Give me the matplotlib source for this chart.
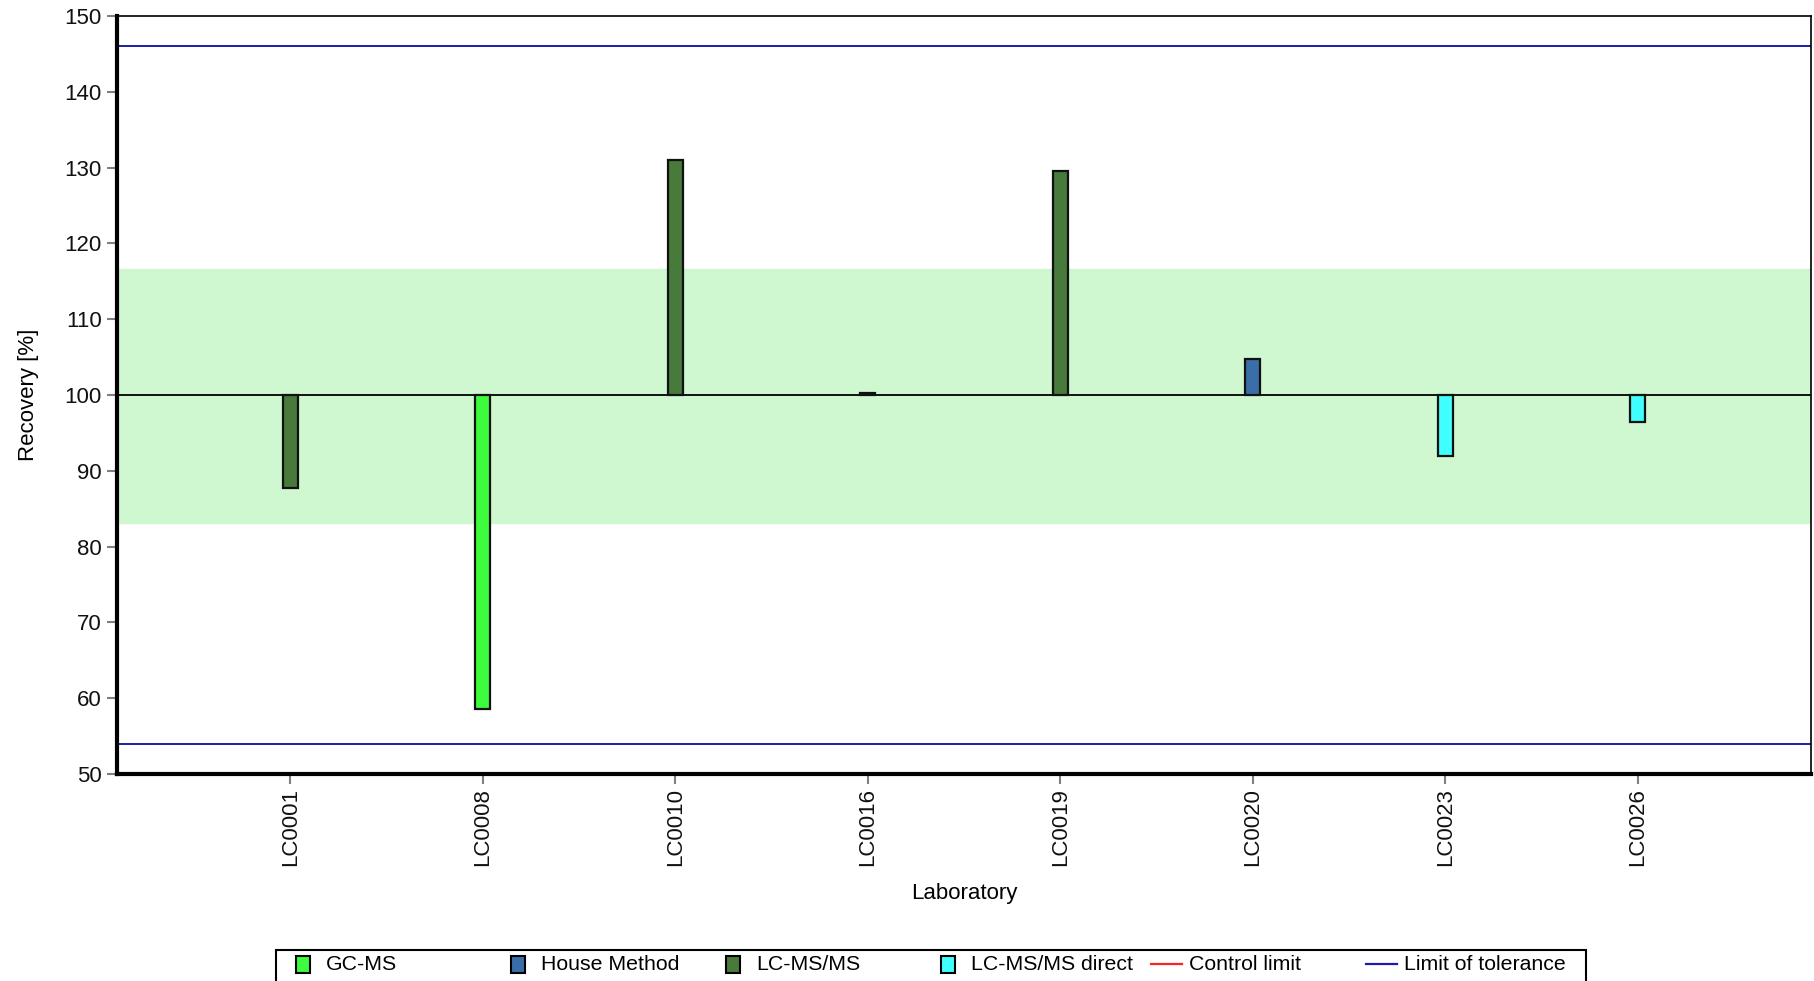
import matplotlib
matplotlib.use("Agg")
import matplotlib.pyplot as plt
from matplotlib.patches import Rectangle
from matplotlib.lines import Line2D

plt.rcParams['font.family'] = ['Liberation Sans', 'DejaVu Sans']

# data
labs = ['LC0001', 'LC0008', 'LC0010', 'LC0016', 'LC0019', 'LC0020', 'LC0023', 'LC0026']
recovery = [87.7, 58.6, 131.0, 100.3, 129.5, 104.8, 92.0, 96.4]
methods = ['LC-MS/MS', 'GC-MS', 'LC-MS/MS', 'LC-MS/MS', 'LC-MS/MS', 'House Method',
           'LC-MS/MS direct', 'LC-MS/MS direct']
method_names = ['GC-MS', 'House Method', 'LC-MS/MS', 'LC-MS/MS direct']
target = 100
control_band = (83.1, 116.6)
tolerance = (54.0, 146.0)

method_colors = {
    'GC-MS': '#3dfc3d',
    'House Method': '#3a6ea8',
    'LC-MS/MS': '#487a3b',
    'LC-MS/MS direct': '#40ffff',
}
tol_color = '#1c1ca8'
ctrl_color = '#ff2020'

W, H = 1814, 981
fig = plt.figure(figsize=(W / 100, H / 100), dpi=100)
ax = fig.add_axes([117 / W, 1 - 774 / H, (1811 - 117) / W, (774 - 16) / H])

ax.axhspan(control_band[0], control_band[1], color='#cff7d0', zorder=0)
for t in tolerance:
    ax.axhline(t, color=tol_color, lw=1.4, zorder=1)
ax.axhline(target, color='#111111', lw=1.4, zorder=2)

x = list(range(len(labs)))
for i, (v, m) in enumerate(zip(recovery, methods)):
    ax.bar(x[i], v - target, bottom=target, width=0.08,
           color=method_colors[m], edgecolor='#111111', linewidth=1.6, zorder=3)

ax.set_xlim(-0.9, 7.9)
ax.set_ylim(50, 150)
ax.set_yticks(range(50, 151, 10))
ax.set_xticks(x)
ax.set_xticklabels(labs, rotation=90)
ax.tick_params(axis='both', colors='#808080', labelcolor='#111111', labelsize=16,
               length=7, width=1.5, direction='out')
ax.tick_params(axis='y', pad=4)
ax.tick_params(axis='x', pad=3)

for side in ['left', 'bottom']:
    ax.spines[side].set_linewidth(3.0)
for side in ['top', 'right']:
    ax.spines[side].set_linewidth(1.2)
for sp in ax.spines.values():
    sp.set_color('black')

ax.set_xlabel('Laboratory', fontsize=16, labelpad=12)
ax.set_ylabel('Recovery [%]', fontsize=16, labelpad=18)

# legend drawn by hand: equal-width columns like the reference
def fx(px):
    return px / W

def fy(py):
    return 1 - py / H

fig.patches.append(Rectangle((fx(276), fy(1000)), fx(1586) - fx(276), fy(950) - fy(1000),
                             transform=fig.transFigure, fill=False, edgecolor='black',
                             linewidth=1.5))
col = 215
x0 = 296
ty = 964
for j, name in enumerate(method_names):
    left = x0 + j * col
    fig.patches.append(Rectangle((fx(left), fy(973)), fx(14), 17 / H,
                                 transform=fig.transFigure,
                                 facecolor=method_colors[name], edgecolor='black',
                                 linewidth=1.5))
    fig.text(fx(left + 30), fy(ty), name, fontsize=15.3, va='center', ha='left')

line_entries = [('Control limit', ctrl_color), ('Limit of tolerance', tol_color)]
for k, (name, c) in enumerate(line_entries):
    left = 1151 + k * 215
    fig.lines.append(Line2D([fx(left), fx(left + 31)], [fy(ty), fy(ty)],
                            transform=fig.transFigure, color=c, lw=1.6))
    fig.text(fx(left + 38), fy(ty), name, fontsize=15.3, va='center', ha='left')

fig.savefig('out.png', dpi=100)
